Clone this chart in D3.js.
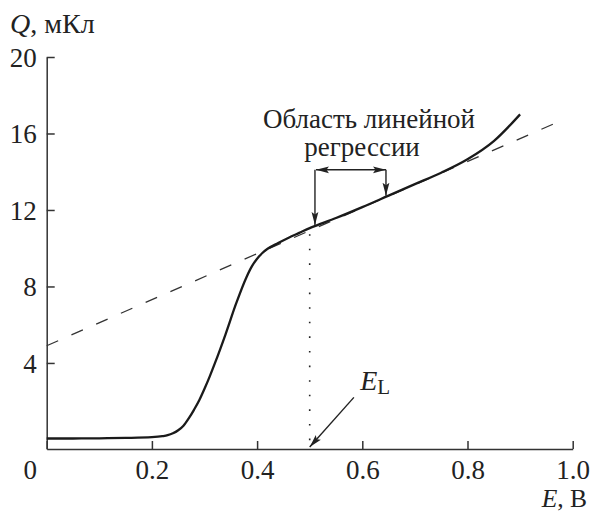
<!DOCTYPE html>
<html>
<head>
<meta charset="utf-8">
<script src="https://cdn.jsdelivr.net/npm/d3@7"></script>
<style>
body { margin: 0; background: #fff; }
</style>
</head>
<body>
<div id="chart"></div>
<script>
"use strict"

// curve Q(E)
let curveE = [0, 0.05, 0.1, 0.15, 0.2, 0.22, 0.23, 0.24, 0.25, 0.26, 0.27, 0.28, 0.29, 0.30, 0.31, 0.32,
              0.34, 0.36, 0.38, 0.39, 0.40, 0.41, 0.42, 0.44, 0.46, 0.48, 0.50, 0.55, 0.60, 0.65,
              0.70, 0.75, 0.80, 0.85, 0.90];
let curveQ = [0.05, 0.05, 0.06, 0.08, 0.12, 0.17, 0.22, 0.32, 0.48, 0.72, 1.1, 1.55, 2.05, 2.65, 3.3, 4.0,
              5.5, 7.1, 8.5, 9.05, 9.45, 9.75, 9.97, 10.27, 10.55, 10.8, 11.05, 11.58, 12.15, 12.75,
              13.35, 13.95, 14.65, 15.6, 17.0];

// dashed regression line
let fitE = [0, 0.976];
let fitQ = [4.9, 16.65];

// annotations (data units)
let regionE = [0.51, 0.645];
let regionArrowQ = 14.1;
let eL = 0.5;
let eLArrow = [[0.584, 2.2], [0.5, -0.4]];
let eLLabel = [0.596, 2.6];

let xTicks = [0, 0.2, 0.4, 0.6, 0.8, 1.0];
let yTicks = [4, 8, 12, 16, 20];

let width = 590;
let height = 512;
let serif = "'Liberation Serif', 'DejaVu Serif', serif";

let x = d3.scaleLinear().domain([0, 1]).range([46.7, 572.7]);
let y = d3.scaleLinear().domain([-0.5, 20]).range([449, 57]);

function curveAt(e) {
    let i = d3.bisectLeft(curveE, e);
    if (i <= 0) return curveQ[0];
    let t = (e - curveE[i - 1]) / (curveE[i] - curveE[i - 1]);
    return curveQ[i - 1] + t * (curveQ[i] - curveQ[i - 1]);
}

let svg = d3.select("#chart")
    .append("svg")
    .attr("width", width)
    .attr("height", height)
    .attr("font-family", serif);

// arrowhead
svg.append("defs").append("marker")
    .attr("id", "arrow")
    .attr("viewBox", "0 0 13 8")
    .attr("refX", 13)
    .attr("refY", 4)
    .attr("markerWidth", 13)
    .attr("markerHeight", 8)
    .attr("markerUnits", "userSpaceOnUse")
    .attr("orient", "auto-start-reverse")
    .append("path")
    .attr("d", "M0,0.6 L13,4 L0,7.4 L2.5,4 Z")
    .attr("fill", "#222");

// axes
let xAxis = svg.append("g")
    .attr("transform", "translate(0," + y(-0.5) + ")")
    .call(d3.axisBottom(x).tickValues(xTicks).tickSize(-8).tickSizeOuter(0)
        .tickFormat(d => d === 0 ? "0" : d3.format(".1f")(d)));

xAxis.selectAll("text")
    .attr("y", 29.5)
    .attr("dy", 0)
    .attr("dx", d => d === 0 ? -17 : 0);

let yAxis = svg.append("g")
    .attr("transform", "translate(" + x(0) + ",0)")
    .call(d3.axisLeft(y).tickValues(yTicks).tickSize(-8).tickSizeOuter(0));

yAxis.selectAll("text")
    .attr("x", -10)
    .attr("dy", "0.35em");

svg.selectAll("g").attr("font-family", serif).attr("font-size", 27);

svg.selectAll(".domain, .tick line")
    .attr("stroke", "#333")
    .attr("stroke-width", 1.5);

svg.selectAll(".tick text").attr("fill", "#222");

// axis titles
let qLabel = svg.append("text")
    .attr("x", 10)
    .attr("y", 33)
    .attr("fill", "#222")
    .attr("font-size", 28);
qLabel.append("tspan").attr("font-style", "italic").text("Q");
qLabel.append("tspan").text(", мКл");

let eLabel = svg.append("text")
    .attr("x", 587)
    .attr("y", 507)
    .attr("text-anchor", "end")
    .attr("fill", "#222")
    .attr("font-size", 25.5);
eLabel.append("tspan").attr("font-style", "italic").text("E");
eLabel.append("tspan").text(", В");

// dashed regression line
let line = d3.line().x(d => x(d[0])).y(d => y(d[1]));

svg.append("path")
    .datum(d3.zip(fitE, fitQ))
    .attr("d", line)
    .attr("fill", "none")
    .attr("stroke", "#333")
    .attr("stroke-width", 1.3)
    .attr("stroke-dasharray", "12.5,14.5");

// dotted line at E_L
svg.append("line")
    .attr("x1", x(eL))
    .attr("x2", x(eL))
    .attr("y1", y(curveAt(eL)) + 6)
    .attr("y2", y(-0.5))
    .attr("stroke", "#222")
    .attr("stroke-width", 1.6)
    .attr("stroke-dasharray", "1.6,13");

// main curve
svg.append("path")
    .datum(d3.zip(curveE, curveQ))
    .attr("d", line.curve(d3.curveMonotoneX))
    .attr("fill", "none")
    .attr("stroke", "#1a1a1a")
    .attr("stroke-width", 2.3);

// regression region annotation
let notes = svg.append("text")
    .attr("text-anchor", "middle")
    .attr("fill", "#222")
    .attr("font-size", 27);
notes.append("tspan").attr("x", 369).attr("y", 128).text("Область линейной");
notes.append("tspan").attr("x", 362).attr("y", 156).text("регрессии");

svg.append("line")
    .attr("x1", x(regionE[0]) + 1)
    .attr("x2", x(regionE[1]))
    .attr("y1", y(regionArrowQ))
    .attr("y2", y(regionArrowQ))
    .attr("stroke", "#222")
    .attr("stroke-width", 1.4)
    .attr("marker-start", "url(#arrow)")
    .attr("marker-end", "url(#arrow)");

svg.selectAll(".regionArrow")
    .data(regionE)
    .enter()
    .append("line")
    .attr("class", "regionArrow")
    .attr("x1", d => x(d))
    .attr("x2", d => x(d))
    .attr("y1", y(regionArrowQ))
    .attr("y2", d => y(curveAt(d)) - 1)
    .attr("stroke", "#222")
    .attr("stroke-width", 1.4)
    .attr("marker-end", "url(#arrow)");

// E_L label and arrow
svg.append("line")
    .attr("x1", x(eLArrow[0][0]))
    .attr("y1", y(eLArrow[0][1]))
    .attr("x2", x(eLArrow[1][0]))
    .attr("y2", y(eLArrow[1][1]))
    .attr("stroke", "#222")
    .attr("stroke-width", 1.4)
    .attr("marker-end", "url(#arrow)");

let eLText = svg.append("text")
    .attr("x", x(eLLabel[0]))
    .attr("y", y(eLLabel[1]))
    .attr("fill", "#222")
    .attr("font-size", 28);
eLText.append("tspan").attr("font-style", "italic").text("E");
eLText.append("tspan").attr("dy", 4).attr("font-size", 21).text("L");
</script>
</body>
</html>
